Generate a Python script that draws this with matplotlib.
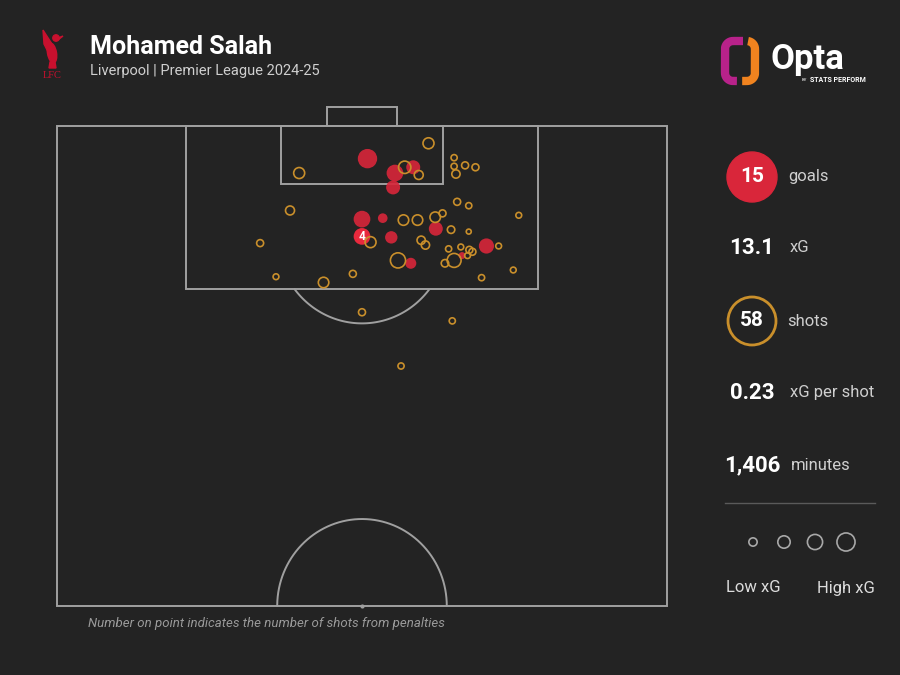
import numpy as np
import matplotlib.pyplot as plt
from matplotlib.patches import Rectangle, Circle, Ellipse, Polygon

plt.rcParams['font.family'] = ['Roboto', 'DejaVu Sans']

# ---- data (pitch coords: x across 0-100, y up the pitch 50-100) ----
goal_x = [50.9, 55.4, 58.4, 55.1, 50.0, 53.4, 54.8, 62.1, 58.0, 70.4, 66.4]
goal_y = [96.6, 95.1, 95.7, 93.6, 90.3, 90.4, 88.4, 89.3, 85.7, 87.5, 86.5]
goal_xg = [0.67, 0.47, 0.30, 0.30, 0.47, 0.11, 0.22, 0.30, 0.16, 0.37, 0.04]

pen_x, pen_y, pen_xg, pen_count = 50.0, 88.5, 0.47, 4

shot_x = [60.9, 39.7, 57.0, 59.3, 65.1, 65.1, 65.4, 66.9, 68.6, 38.2,
          65.6, 67.5, 75.7, 56.8, 59.1, 62.0, 63.2, 64.6, 67.5, 51.4,
          59.7, 60.4, 33.3, 64.2, 66.2, 67.6, 68.1, 72.4, 55.9, 65.1,
          63.6, 67.3, 74.8, 69.6, 35.9, 43.7, 48.5, 50.0, 64.8, 56.4]
shot_y = [98.2, 95.1, 95.7, 94.9, 96.7, 95.8, 95.0, 95.9, 95.7, 91.2,
          92.1, 91.7, 90.7, 90.2, 90.2, 90.5, 90.9, 89.2, 89.0, 87.9,
          88.1, 87.6, 87.8, 87.2, 87.4, 87.1, 86.9, 87.5, 86.0, 86.0,
          85.7, 86.5, 85.0, 84.2, 84.3, 83.7, 84.6, 80.6, 79.7, 75.0]
shot_xg = [0.16, 0.16, 0.22, 0.09, 0.025, 0.025, 0.07, 0.04, 0.04, 0.09,
           0.04, 0.025, 0.02, 0.14, 0.14, 0.14, 0.04, 0.05, 0.01, 0.16,
           0.07, 0.07, 0.04, 0.025, 0.02, 0.04, 0.04, 0.02, 0.37, 0.30,
           0.05, 0.02, 0.02, 0.025, 0.02, 0.14, 0.04, 0.04, 0.025, 0.025]

legend_xg = [0.07, 0.22, 0.37, 0.57]

stat_values = ['15', '13.1', '58', '0.23', '1,406']
stat_labels = ['goals', 'xG', 'shots', 'xG per shot', 'minutes']

BG = '#232323'
LINE = '#a0a0a0'
RED = '#d9263a'
GOLD = '#c98f2b'


def xg_size(xg):
    r_px = 1.5 + 10 * np.sqrt(np.asarray(xg))
    return (1.44 * r_px) ** 2


fig = plt.figure(figsize=(9, 6.75), dpi=100, facecolor=BG)

# overlay axes in pixel coords for header / side panel
ov = fig.add_axes([0, 0, 1, 1])
ov.set_xlim(0, 900)
ov.set_ylim(675, 0)
ov.axis('off')
ov.patch.set_alpha(0)

# ---- pitch ----
ax = fig.add_axes([57 / 900, 69 / 675, 610 / 900, 480 / 675])
ax.set_xlim(0, 100)
ax.set_ylim(50, 100)
ax.axis('off')
ax.patch.set_alpha(0)

lk = dict(fill=False, ec=LINE, lw=1.4, clip_on=False)
ax.add_patch(Rectangle((0, 50), 100, 50, **lk))
ax.add_patch(Rectangle((21.1, 83), 57.8, 17, **lk))
ax.add_patch(Rectangle((36.8, 94.0), 26.4, 6, **lk))
ax.add_patch(Rectangle((44.3, 100), 11.4, 2, **lk))

# penalty arc
t = np.linspace(0, 2 * np.pi, 400)
px_ = 50 + 13.9 * np.cos(t)
py_ = 88.5 + 9.06 * np.sin(t)
m = py_ <= 83
order = np.argsort(px_[m])
ax.plot(px_[m][order], py_[m][order], color=LINE, lw=1.4, clip_on=False)

# centre circle (half)
t2 = np.linspace(0, np.pi, 200)
ax.plot(50 + 13.9 * np.cos(t2), 50 + 9.06 * np.sin(t2), color=LINE, lw=1.4, clip_on=False)
ax.scatter([50], [50], s=4, color=LINE, clip_on=False)

# goals
ax.scatter(goal_x, goal_y, s=xg_size(goal_xg), color=RED, alpha=0.9,
           edgecolors='none', zorder=3, clip_on=False)
ax.scatter([pen_x], [pen_y], s=xg_size([pen_xg]), color='#e8293d',
           edgecolors='none', zorder=4, clip_on=False)
ax.text(pen_x, pen_y, str(pen_count), color='white', fontsize=8.5,
        fontweight='bold', ha='center', va='center', zorder=6)

# other shots
ax.scatter(shot_x, shot_y, s=xg_size(shot_xg), facecolors='none',
           edgecolors=GOLD, linewidths=1.2, zorder=5, clip_on=False)

# ---- header ----
ov.text(90, 47, 'Mohamed Salah', color='white', fontsize=18,
        fontweight='bold', va='center', ha='left')
ov.text(90, 71, 'Liverpool | Premier League 2024-25', color='#cfcfcf',
        fontsize=10.5, va='center', ha='left')

# rough liver bird
LFC = '#c8102e'
ov.add_patch(Ellipse((52, 53), 9, 20, angle=-10, color=LFC))
ov.add_patch(Circle((56, 38), 3.2, color=LFC))
ov.add_patch(Polygon([(43, 30), (52, 44), (48, 52), (44, 44)], closed=True, color=LFC))
ov.add_patch(Polygon([(58, 38), (63, 36), (58, 40)], closed=True, color=LFC))
ov.add_patch(Polygon([(50, 62), (55, 62), (56, 68), (49, 68)], closed=True, color=LFC))
ov.text(52, 76, 'LFC', color=LFC, fontsize=7.5, family='Liberation Serif',
        ha='center', va='center')

# Opta logo: rounded ring split into two pieces
cx, cy, hw, hh, rad = 740, 61, 15, 20, 8
corn = []
for ccx, ccy, a0, a1 in [(cx + hw - rad, cy - hh + rad, -90, 0),
                         (cx + hw - rad, cy + hh - rad, 0, 90),
                         (cx - hw + rad, cy + hh - rad, 90, 180),
                         (cx - hw + rad, cy - hh + rad, 180, 270)]:
    a = np.radians(np.linspace(a0, a1, 10))
    corn += list(zip(ccx + rad * np.cos(a), ccy + rad * np.sin(a)))
corn.append(corn[0])
corn = np.array(corn)
seg = np.hypot(np.diff(corn[:, 0]), np.diff(corn[:, 1]))
cum = np.concatenate([[0], np.cumsum(seg)])
s_ = np.linspace(0, cum[-1], 600)
rx = np.interp(s_, cum, corn[:, 0])
ry = np.interp(s_, cum, corn[:, 1])
# path starts on top edge at x=747 going clockwise (right side first)
top = ry < cy
right_piece = (s_ < cum[-1] * 0.5 + 2) & ~(~top & (rx < 742))
right_piece &= ~(top & (rx < 748))
left_piece = ~right_piece & ~(~top & (rx > 737) & (rx < 742)) & ~(top & (rx > 743) & (rx < 748))
ov.plot(rx[right_piece], ry[right_piece], color='#f0831f', lw=6, solid_capstyle='butt')
idx = np.where(left_piece)[0]
ov.plot(rx[idx], ry[idx], color='#b8228a', lw=6, solid_capstyle='butt')
ov.text(770, 60, 'Opta', color='white', fontsize=25, fontweight='bold',
        va='center', ha='left')
ov.text(802, 80, 'BY', color='white', fontsize=3.2, va='center', ha='left')
ov.text(810, 80, 'STATS PERFORM', color='white', fontsize=5,
        fontweight='bold', va='center', ha='left')

# ---- side stats ----
stat_y = [177, 248, 321, 393, 465]
ov.add_patch(Circle((752, 177), 25, color=RED))
ov.add_patch(Circle((752, 321), 24, fill=False, ec=GOLD, lw=2))
label_x = [788, 790, 787, 790, 791]
for v, lab, y, lx in zip(stat_values, stat_labels, stat_y, label_x):
    ov.text(752, y, v, color='white', fontsize=15 if lab in ('goals', 'shots') else 16,
            fontweight='bold', ha='center', va='center')
    ov.text(lx, y, lab, color='#cfcfcf', fontsize=12, ha='left', va='center')

ov.plot([725, 875], [503, 503], color='#5a5a5a', lw=1)

leg_x = [753, 784, 815, 846]
ov.scatter(leg_x, [542] * 4, s=xg_size(legend_xg), facecolors='none',
           edgecolors='#a8a8a8', linewidths=1.2)
ov.text(753, 588, 'Low xG', color='#dcdcdc', fontsize=12, ha='center', va='center')
ov.text(846, 588, 'High xG', color='#dcdcdc', fontsize=12, ha='center', va='center')

ov.text(88, 624, 'Number on point indicates the number of shots from penalties',
        color='#9a9a9a', fontsize=9.5, style='italic', ha='left', va='center')

fig.savefig('out.png', dpi=100, facecolor=BG)
